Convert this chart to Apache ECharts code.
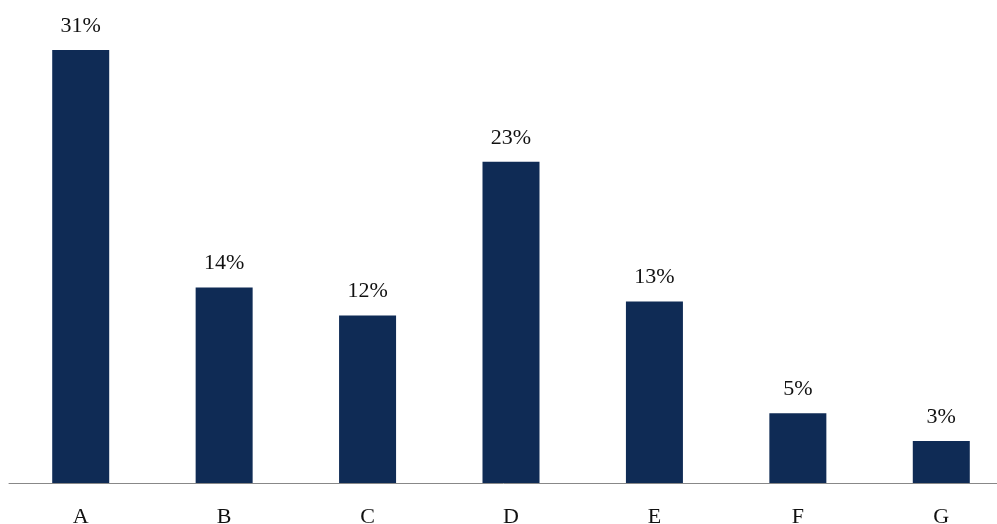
<!DOCTYPE html>
<html>
<head>
<meta charset="utf-8">
<script src="https://cdn.jsdelivr.net/npm/echarts@6/dist/echarts.min.js"></script>
<style>
html,body{margin:0;padding:0;background:#fff;}
#c{width:997px;height:524px;}
</style>
</head>
<body>
<div id="c"></div>
<script>
const categories = ['A','B','C','D','E','F','G'];
const values = [31, 14, 12, 23, 13, 5, 3];

const chart = echarts.init(document.getElementById('c'));
chart.setOption({
  animation: false,
  backgroundColor: '#ffffff',
  grid: { left: 9, top: 36, width: 1004, height: 447, containLabel: false, outerBoundsMode: 'none' },
  xAxis: {
    type: 'category',
    data: categories,
    axisLine: { lineStyle: { color: '#888888', width: 1 } },
    axisTick: { show: false },
    axisLabel: {
      color: '#111111',
      fontFamily: 'Liberation Serif',
      fontSize: 22,
      margin: 23
    }
  },
  yAxis: {
    type: 'value',
    min: 0,
    max: 32,
    show: false,
    splitLine: { show: false }
  },
  series: [{
    type: 'bar',
    data: values,
    barWidth: 57,
    itemStyle: { color: '#0f2b55' },
    label: {
      show: true,
      position: 'top',
      distance: 13,
      formatter: p => p.value + '%',
      color: '#111111',
      fontFamily: 'Liberation Serif',
      fontSize: 22
    }
  }]
});
</script>
</body>
</html>
